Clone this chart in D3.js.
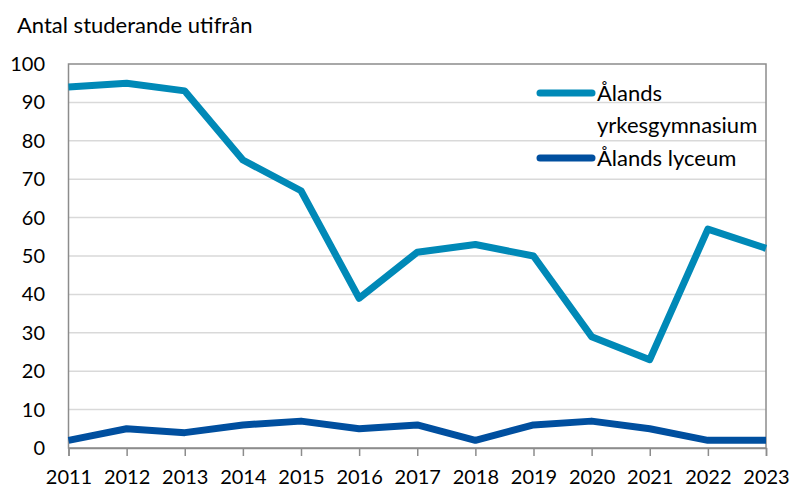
<!DOCTYPE html>
<html>
<head>
<meta charset="utf-8">
<script src="https://cdn.jsdelivr.net/npm/d3@7"></script>
<style>
  body { margin: 0; background: #fff; }
  svg { display: block; font-family: Lato, "Open Sans", sans-serif; }
</style>
</head>
<body>
<svg width="792" height="488"></svg>
<script>
const years = [2011, 2012, 2013, 2014, 2015, 2016, 2017, 2018, 2019, 2020, 2021, 2022, 2023];
const yrkes = [94, 95, 93, 75, 67, 39, 51, 53, 50, 29, 23, 57, 52];
const lyceum = [2, 5, 4, 6, 7, 5, 6, 2, 6, 7, 5, 2, 2];
const yTicks = [0, 10, 20, 30, 40, 50, 60, 70, 80, 90, 100];

const margin = {t: 64, r: 26, b: 40, l: 68.5};
const size = {w: 792, h: 488};
const svg = d3.select('svg');

const x = d3.scaleLinear()
    .domain([2011, 2023])
    .range([margin.l, size.w - margin.r]);
const y = d3.scaleLinear()
    .domain([0, 100])
    .range([size.h - margin.b, margin.t]);

// grid
svg.append('g')
    .selectAll('line')
    .data(yTicks.filter(d => d > 0 && d < 100))
    .join('line')
    .attr('x1', x(2011)).attr('x2', x(2023))
    .attr('y1', d => y(d)).attr('y2', d => y(d))
    .attr('stroke', '#d9d9d9')
    .attr('stroke-width', 1.5);

// frame
svg.append('rect')
    .attr('x', x(2011)).attr('y', y(100))
    .attr('width', x(2023) - x(2011))
    .attr('height', y(0) - y(100))
    .attr('fill', 'none')
    .attr('stroke', '#8c8c8c')
    .attr('stroke-width', 1.5);

const xAxis = svg.append('g')
    .attr('transform', `translate(0,${y(0)})`)
    .call(d3.axisBottom(x).tickValues(years).tickFormat(d3.format('d')).tickSize(8).tickPadding(14));
xAxis.select('.domain').attr('stroke', '#8c8c8c').attr('stroke-width', 1.5);
xAxis.selectAll('.tick line').attr('stroke', '#8c8c8c').attr('stroke-width', 1.5);
xAxis.selectAll('text').attr('font-size', 20).attr('fill', '#000').attr('font-family', 'Lato, sans-serif');

const yAxis = svg.append('g')
    .attr('transform', `translate(${x(2011)},0)`)
    .call(d3.axisLeft(y).tickValues(yTicks).tickSize(0).tickPadding(23.5));
yAxis.select('.domain').remove();
yAxis.selectAll('text').attr('font-size', 20).attr('fill', '#000').attr('font-family', 'Lato, sans-serif');

svg.append('text')
    .attr('x', 17).attr('y', 33)
    .attr('font-size', 22)
    .text('Antal studerande utifrån');

const line = d3.line()
    .x((d, i) => x(years[i]))
    .y(d => y(d));

const series = [
    {name: ['Ålands', 'yrkesgymnasium'], values: yrkes, color: '#0089b7'},
    {name: ['Ålands lyceum'], values: lyceum, color: '#004f9f'}
];

svg.append('g')
    .selectAll('path')
    .data(series)
    .join('path')
    .attr('d', d => line(d.values))
    .attr('fill', 'none')
    .attr('stroke', d => d.color)
    .attr('stroke-width', 7)
    .attr('stroke-linejoin', 'round');

// legend
const legendY = [93, 158];
const legend = svg.append('g')
    .selectAll('g')
    .data(series)
    .join('g')
    .attr('transform', (d, i) => `translate(540,${legendY[i]})`);
legend.append('line')
    .attr('x1', 0).attr('x2', 52)
    .attr('stroke', d => d.color)
    .attr('stroke-width', 7)
    .attr('stroke-linecap', 'round');
legend.append('text')
    .attr('x', 57)
    .attr('y', 8)
    .attr('font-size', 22)
    .selectAll('tspan')
    .data(d => d.name)
    .join('tspan')
    .attr('x', 57)
    .attr('dy', (d, i) => i === 0 ? 0 : 32)
    .text(d => d);
</script>
</body>
</html>
